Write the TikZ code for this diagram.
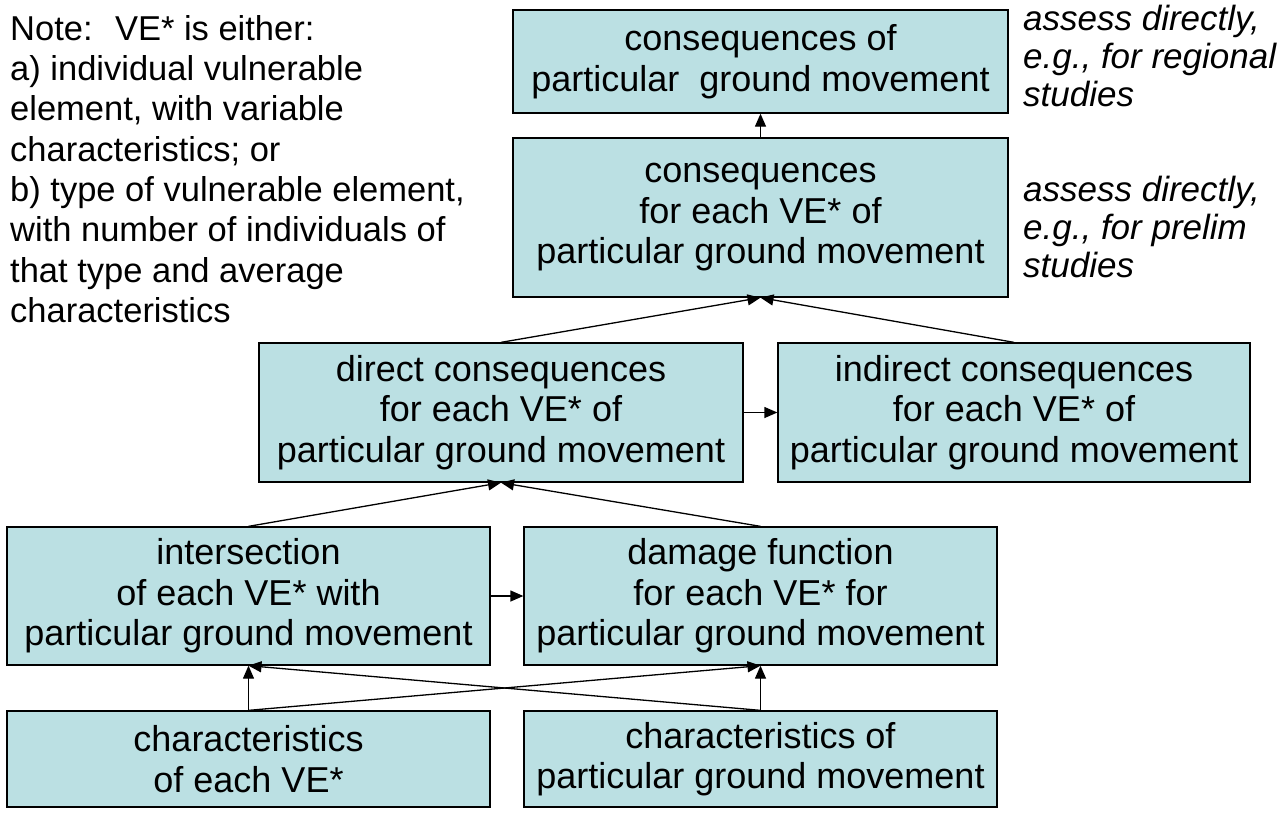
\documentclass[tikz,border=0pt]{standalone}
\usepackage{fontspec}
\setmainfont{Liberation Sans}
\usetikzlibrary{arrows.meta}
\definecolor{boxfill}{RGB}{187,224,227}
\begin{document}
\begin{tikzpicture}[x=1pt,y=-1pt,
  box/.style={draw=black, line width=1.3pt, fill=boxfill, inner sep=0pt, align=center,
    font=\fontsize{36}{40.5}\selectfont},
  conn/.style={line width=1.3pt, -{Triangle[length=13pt,width=11pt]}},
  note/.style={inner sep=0pt, align=left, anchor=north west, font=\fontsize{34.5}{40.3}\selectfont},
  side/.style={inner sep=0pt, align=left, anchor=north west, font=\fontsize{35}{38}\selectfont\itshape}]
\useasboundingbox (0,0) rectangle (1278,815);
\fill[white] (0,0) rectangle (1278,815);

\node[box, minimum width=495pt, minimum height=103pt] (b1) at (760.5,61.5)
  {consequences of\\particular~ ground movement};
\node[box, minimum width=495pt, minimum height=159pt] (b2) at (760.5,217.5)
  {consequences\\for each VE* of\\particular ground movement};
\node[box, minimum width=484pt, minimum height=139pt] (b3) at (501,412.5)
  {direct consequences\\for each VE* of\\particular ground movement};
\node[box, minimum width=472pt, minimum height=139pt] (b4) at (1014,412.5)
  {indirect consequences\\for each VE* of\\particular ground movement};
\node[box, minimum width=483pt, minimum height=138pt] (b5) at (248.5,596)
  {intersection\\of each VE* with\\particular ground movement};
\node[box, minimum width=473pt, minimum height=138pt] (b6) at (760.5,596)
  {damage function\\for each VE* for\\particular ground movement};
\node[box, minimum width=483pt, minimum height=96pt] (b7) at (248.5,759)
  {characteristics\\of each VE*};
\node[box, minimum width=473pt, minimum height=96pt] (b8) at (760.5,759)
  {characteristics of\\particular ground movement};

\node[note] (nt) at (10,15) {Note:~ VE* is either:\\a) individual vulnerable\\element, with variable\\characteristics; or\\b) type of vulnerable element,\\with number of individuals of\\that type and average\\characteristics};

\node[side] (s1) at (1023,5) {assess directly,\\e.g., for regional\\studies};
\node[side] (s2) at (1023,176) {assess directly,\\e.g., for prelim\\studies};

\draw[conn] (b2.north) -- (b1.south);
\draw[conn] (b3.north) -- (b2.south);
\draw[conn] (b4.north) -- (b2.south);
\draw[conn] (b3.east) -- (b4.west);
\draw[conn] (b5.north) -- (b3.south);
\draw[conn] (b6.north) -- (b3.south);
\draw[conn] (b5.east) -- (b6.west);
\draw[conn] (b7.north) -- (b5.south);
\draw[conn] (b7.north) -- (b6.south);
\draw[conn] (b8.north) -- (b6.south);
\draw[conn] (b8.north) -- (b5.south);
\end{tikzpicture}
\end{document}
